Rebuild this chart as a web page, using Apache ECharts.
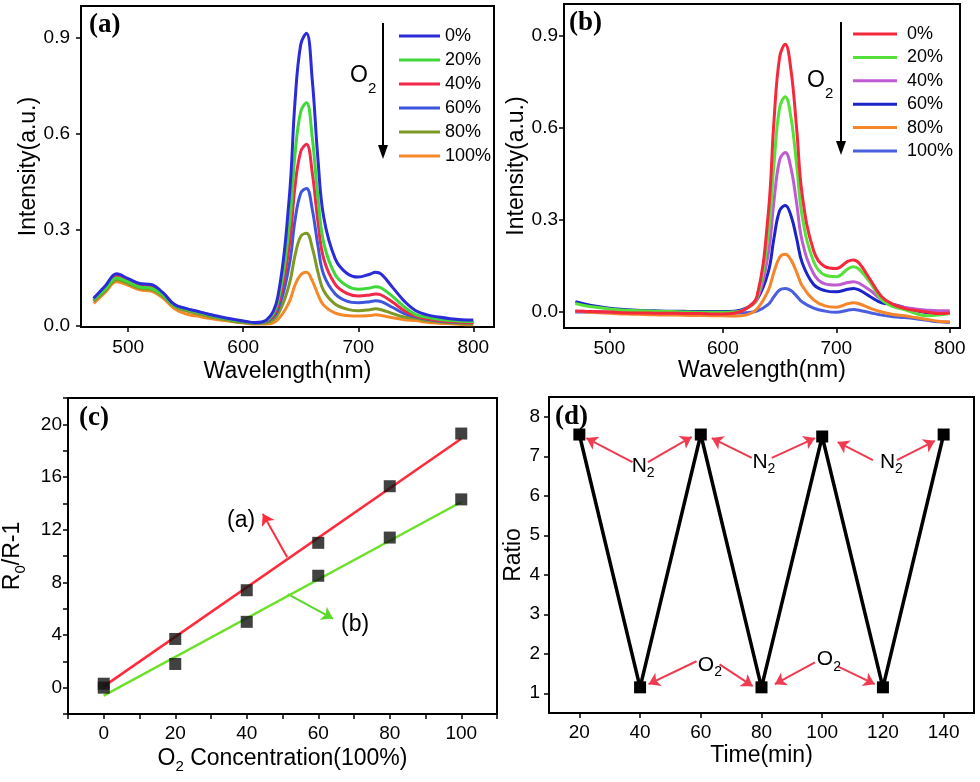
<!DOCTYPE html>
<html>
<head>
<meta charset="utf-8">
<script src="https://cdn.jsdelivr.net/npm/echarts@6/dist/echarts.min.js"></script>
<style>
  html, body { margin: 0; background: #fff; }
  #chart { width: 980px; height: 782px; }
</style>
</head>
<body>
<div id="chart"></div>
<script>
// ---- data ----
const wavelength = [470, 480, 490, 500, 510, 520, 530, 540, 550, 560, 570, 580, 590, 600, 610, 620, 630, 640, 645, 650,
  655, 660, 665, 670, 680, 690, 700, 710, 715, 720, 730, 740, 750, 760, 770, 780, 790, 800];
const levels = ['0%', '20%', '40%', '60%', '80%', '100%'];

// (a) spectra
const specA0 = [0.087, 0.125, 0.163, 0.148, 0.133, 0.130, 0.105, 0.068, 0.055, 0.046, 0.037, 0.029, 0.022, 0.016, 0.011, 0.018, 0.090, 0.400, 0.700, 0.880,
  0.915, 0.770, 0.520, 0.340, 0.210, 0.165, 0.153, 0.162, 0.168, 0.162, 0.120, 0.078, 0.048, 0.035, 0.028, 0.023, 0.020, 0.019];
const specA20 = [0.082, 0.115, 0.150, 0.138, 0.122, 0.118, 0.098, 0.064, 0.052, 0.043, 0.034, 0.026, 0.019, 0.014, 0.010, 0.016, 0.075, 0.310, 0.535, 0.670,
  0.698, 0.590, 0.400, 0.260, 0.160, 0.126, 0.115, 0.119, 0.123, 0.119, 0.092, 0.060, 0.036, 0.027, 0.021, 0.017, 0.015, 0.014];
const specA40 = [0.080, 0.118, 0.155, 0.141, 0.126, 0.122, 0.100, 0.065, 0.052, 0.043, 0.034, 0.026, 0.019, 0.014, 0.010, 0.015, 0.062, 0.250, 0.435, 0.545,
  0.568, 0.480, 0.325, 0.210, 0.130, 0.102, 0.094, 0.097, 0.100, 0.097, 0.074, 0.048, 0.031, 0.023, 0.018, 0.014, 0.012, 0.011];
const specA60 = [0.085, 0.122, 0.160, 0.145, 0.130, 0.127, 0.103, 0.067, 0.054, 0.045, 0.036, 0.027, 0.020, 0.014, 0.010, 0.014, 0.050, 0.190, 0.330, 0.415,
  0.430, 0.365, 0.250, 0.160, 0.100, 0.078, 0.073, 0.076, 0.079, 0.076, 0.058, 0.039, 0.029, 0.021, 0.016, 0.013, 0.011, 0.010];
const specA80 = [0.078, 0.110, 0.145, 0.133, 0.118, 0.114, 0.094, 0.062, 0.048, 0.039, 0.030, 0.023, 0.016, 0.011, 0.008, 0.010, 0.035, 0.130, 0.220, 0.280,
  0.290, 0.245, 0.168, 0.110, 0.068, 0.053, 0.048, 0.051, 0.054, 0.051, 0.039, 0.028, 0.024, 0.017, 0.013, 0.010, 0.008, 0.007];
const specA100 = [0.071, 0.105, 0.138, 0.127, 0.113, 0.109, 0.088, 0.055, 0.038, 0.031, 0.024, 0.019, 0.014, 0.010, 0.006, 0.006, 0.020, 0.075, 0.128, 0.160,
  0.168, 0.142, 0.098, 0.065, 0.040, 0.033, 0.031, 0.033, 0.035, 0.033, 0.026, 0.020, 0.017, 0.012, 0.009, 0.007, 0.005, 0.004];

// (b) spectra
const specB0 = [0.003, 0.002, 0.001, 0.000, -0.002, -0.003, -0.003, -0.004, -0.004, -0.004, -0.005, -0.005, -0.006, -0.006, -0.004, 0.010, 0.050, 0.320, 0.620, 0.830,
  0.873, 0.790, 0.600, 0.380, 0.200, 0.148, 0.142, 0.165, 0.170, 0.160, 0.105, 0.050, 0.025, 0.012, 0.005, 0.000, -0.005, -0.003];
const specB20 = [0.028, 0.020, 0.015, 0.010, 0.007, 0.005, 0.004, 0.003, 0.002, 0.001, 0.000, -0.001, -0.001, -0.001, 0.000, 0.010, 0.045, 0.255, 0.480, 0.665,
  0.702, 0.635, 0.480, 0.310, 0.165, 0.120, 0.115, 0.140, 0.148, 0.140, 0.095, 0.040, 0.018, 0.008, -0.005, -0.012, -0.010, -0.005];
const specB40 = [0.003, 0.002, 0.001, 0.000, 0.000, -0.001, -0.001, -0.002, -0.002, -0.002, -0.002, -0.002, -0.002, -0.002, -0.001, 0.010, 0.040, 0.190, 0.360, 0.495,
  0.520, 0.470, 0.355, 0.230, 0.125, 0.092, 0.088, 0.096, 0.099, 0.094, 0.070, 0.040, 0.025, 0.015, 0.010, 0.006, 0.004, 0.004];
const specB60 = [0.034, 0.025, 0.018, 0.012, 0.009, 0.007, 0.005, 0.004, 0.003, 0.003, 0.002, 0.002, 0.002, 0.002, 0.003, 0.012, 0.040, 0.130, 0.240, 0.330,
  0.347, 0.315, 0.240, 0.160, 0.090, 0.070, 0.066, 0.074, 0.077, 0.072, 0.050, 0.030, 0.025, 0.015, 0.005, -0.002, -0.005, -0.004];
const specB80 = [0.003, 0.000, -0.002, -0.004, -0.006, -0.007, -0.008, -0.009, -0.010, -0.010, -0.011, -0.011, -0.012, -0.012, -0.013, -0.010, 0.010, 0.070, 0.130, 0.178,
  0.188, 0.170, 0.130, 0.085, 0.040, 0.020, 0.016, 0.027, 0.030, 0.027, 0.012, 0.000, -0.008, -0.012, -0.018, -0.024, -0.030, -0.032];
const specB100 = [0.000, 0.000, 0.000, -0.001, -0.001, -0.001, -0.002, -0.002, -0.002, -0.002, -0.002, -0.003, -0.003, -0.003, -0.003, -0.002, 0.003, 0.025, 0.050, 0.072,
  0.077, 0.070, 0.052, 0.033, 0.013, 0.003, -0.001, 0.006, 0.008, 0.006, -0.002, -0.010, -0.015, -0.018, -0.022, -0.027, -0.032, -0.034];

// (c) Stern-Volmer plot
const concentration = [0, 20, 40, 60, 80, 100];
const r0A = [0.3, 3.7, 7.4, 11.0, 15.3, 19.3];
const r0B = [0.0, 1.8, 5.0, 8.5, 11.4, 14.3];
const fitX = [0, 100];
const fitA = [0.1, 18.9];
const fitB = [-0.6, 14.1];

// (d) switching cycles
const time = [20, 40, 60, 80, 100, 120, 140];
const ratio = [7.55, 1.15, 7.55, 1.15, 7.5, 1.15, 7.55];

// tick labels
const ticksSpecX = [500, 600, 700, 800];
const ticksSpecY = [0, 0.3, 0.6, 0.9];
const ticksTime = [20, 40, 60, 80, 100, 120, 140];
const ticksRatio = [1, 2, 3, 4, 5, 6, 7, 8];

const colorsA = ['#2b2bd9', '#3fd83a', '#f0284a', '#3d55dc', '#7c9a25', '#f5892a'];
const colorsB = ['#f5283c', '#55e03a', '#c05ad0', '#1a24c8', '#f5852a', '#4a5ee0'];
const specsA = [specA0, specA20, specA40, specA60, specA80, specA100];
const specsB = [specB0, specB20, specB40, specB60, specB80, specB100];

const FONT = '"Liberation Sans", Arial, sans-serif';
const SERIF = '"Liberation Serif", "Times New Roman", serif';

function axis(extra) {
  const base = {
    axisLine: { onZero: false, lineStyle: { color: '#000', width: 2 } },
    axisTick: { length: 5, lineStyle: { color: '#000', width: 1.5 } },
    axisLabel: { color: '#000', fontSize: 19, fontFamily: FONT },
    splitLine: { show: false },
    nameLocation: 'middle',
    nameTextStyle: { color: '#000', fontSize: 23, fontFamily: FONT }
  };
  const out = Object.assign({}, base, extra);
  out.axisTick = Object.assign({}, base.axisTick, extra.axisTick || {});
  out.axisLabel = Object.assign({}, base.axisLabel, extra.axisLabel || {});
  out.nameTextStyle = Object.assign({}, base.nameTextStyle, extra.nameTextStyle || {});
  return out;
}

const subRich = {
  m: { fontSize: 23, fontFamily: FONT, color: '#000', lineHeight: 30 },
  s: { fontSize: 15, fontFamily: FONT, color: '#000', lineHeight: 30, verticalAlign: 'bottom' }
};

function spectrumSeries(prefix, idx, specs, colors) {
  return levels.map((lv, i) => ({
    name: prefix + '|' + lv,
    type: 'line',
    xAxisIndex: idx,
    yAxisIndex: idx,
    symbol: 'none',
    smooth: 0.4,
    color: colors[i],
    lineStyle: { width: 3, color: colors[i] },
    z: 10 - i,
    data: wavelength.map((w, k) => [w, specs[i][k]])
  }));
}

const arrowLine = (color) => ({
  silent: true,
  symbol: ['none', 'arrow'],
  symbolSize: 11,
  label: { show: false },
  lineStyle: { color: color, width: 2, type: 'solid' },
  emphasis: { disabled: true }
});

const chart = echarts.init(document.getElementById('chart'));

chart.setOption({
  backgroundColor: '#fff',
  animation: false,
  textStyle: { fontFamily: FONT },
  grid: [
    { left: 81, top: 6, width: 413, height: 321, show: true, borderColor: '#000', borderWidth: 2 },
    { left: 564, top: 4, width: 396, height: 324, show: true, borderColor: '#000', borderWidth: 2 },
    { left: 68, top: 398, width: 429, height: 316, show: true, borderColor: '#000', borderWidth: 2 },
    { left: 549, top: 397, width: 425, height: 316, show: true, borderColor: '#000', borderWidth: 2 }
  ],
  legend: [
    {
      orient: 'vertical', left: 394, top: 22, itemWidth: 41, itemHeight: 3, itemGap: 6, icon: 'rect',
      data: levels.map(l => 'a|' + l),
      formatter: n => n.split('|')[1],
      textStyle: { fontSize: 18, color: '#000', fontFamily: FONT, lineHeight: 18 },
      selectedMode: false
    },
    {
      orient: 'vertical', left: 848, top: 20, itemWidth: 44, itemHeight: 3, itemGap: 5.4, icon: 'rect',
      data: levels.map(l => 'b|' + l),
      formatter: n => n.split('|')[1],
      textStyle: { fontSize: 18, color: '#000', fontFamily: FONT, lineHeight: 18, padding: [0, 0, 0, 5] },
      selectedMode: false
    }
  ],
  xAxis: [
    axis({ gridIndex: 0, type: 'value', min: 459, max: 818, name: 'Wavelength(nm)', nameGap: 33,
      axisTick: { customValues: ticksSpecX }, axisLabel: { customValues: ticksSpecX, margin: 11 } }),
    axis({ gridIndex: 1, type: 'value', min: 460, max: 809, name: 'Wavelength(nm)', nameGap: 27,
      axisTick: { customValues: ticksSpecX }, axisLabel: { customValues: ticksSpecX, margin: 11 } }),
    axis({ gridIndex: 2, type: 'value', min: -10, max: 110, interval: 10,
      name: '{m|O}{s|2}{m| Concentration(100%)}', nameGap: 30,
      nameTextStyle: { rich: subRich },
      axisLabel: { margin: 10, formatter: v => (v >= 0 && v <= 100 && v % 20 === 0) ? String(v) : '' } }),
    axis({ gridIndex: 3, type: 'value', min: 10, max: 150, name: 'Time(min)', nameGap: 31,
      axisTick: { customValues: ticksTime }, axisLabel: { customValues: ticksTime, margin: 10 } })
  ],
  yAxis: [
    axis({ gridIndex: 0, type: 'value', min: -0.003, max: 1.0, name: 'Intensity(a.u.)', nameGap: 35,
      axisTick: { customValues: ticksSpecY },
      axisLabel: { customValues: ticksSpecY, margin: 11, formatter: v => v.toFixed(1) } }),
    axis({ gridIndex: 1, type: 'value', min: -0.052, max: 1.004, name: 'Intensity(a.u.)', nameGap: 34,
      axisTick: { customValues: ticksSpecY },
      axisLabel: { customValues: ticksSpecY, margin: 6, formatter: v => v.toFixed(1) } }),
    axis({ gridIndex: 2, type: 'value', min: -2, max: 22, interval: 2,
      name: '{m|R}{s|0}{m|/R-1}', nameGap: 40,
      nameTextStyle: { rich: subRich },
      axisLabel: { margin: 6, formatter: v => (v >= 0 && v <= 20 && v % 4 === 0) ? String(v) : '' } }),
    axis({ gridIndex: 3, type: 'value', min: 0.5, max: 8.5, name: 'Ratio', nameGap: 22,
      axisTick: { customValues: ticksRatio }, axisLabel: { customValues: ticksRatio, margin: 9 } })
  ],
  series: [
    ...spectrumSeries('a', 0, specsA, colorsA),
    ...spectrumSeries('b', 1, specsB, colorsB),
    {
      name: 'fitA', type: 'line', xAxisIndex: 2, yAxisIndex: 2, symbol: 'none',
      lineStyle: { color: '#ff2a3a', width: 2.5 }, z: 5,
      data: fitX.map((x, i) => [x, fitA[i]]),
      markLine: Object.assign(arrowLine('#ff2a3a'), {
        data: [[{ coord: [51.3, 9.9] }, { coord: [44.5, 13.2] }]]
      }),
      markPoint: {
        symbolSize: 0, silent: true,
        label: { show: true, formatter: '(a)', color: '#000', fontSize: 23, fontFamily: FONT },
        data: [{ coord: [38.4, 12.7] }]
      }
    },
    {
      name: 'fitB', type: 'line', xAxisIndex: 2, yAxisIndex: 2, symbol: 'none',
      lineStyle: { color: '#6ee02a', width: 2.5 }, z: 5,
      data: fitX.map((x, i) => [x, fitB[i]]),
      markLine: Object.assign(arrowLine('#5ad82a'), {
        data: [[{ coord: [51.5, 7.1] }, { coord: [64.1, 5.25] }]]
      }),
      markPoint: {
        symbolSize: 0, silent: true,
        label: { show: true, formatter: '(b)', color: '#000', fontSize: 23, fontFamily: FONT },
        data: [{ coord: [70.3, 4.8] }]
      }
    },
    {
      name: 'ptsA', type: 'scatter', xAxisIndex: 2, yAxisIndex: 2, symbol: 'rect', symbolSize: 12,
      itemStyle: { color: '#111' }, z: 6,
      data: concentration.map((x, i) => [x, r0A[i]])
    },
    {
      name: 'ptsB', type: 'scatter', xAxisIndex: 2, yAxisIndex: 2, symbol: 'rect', symbolSize: 12,
      itemStyle: { color: '#111' }, z: 6,
      data: concentration.map((x, i) => [x, r0B[i]])
    },
    {
      name: 'ratio', type: 'line', xAxisIndex: 3, yAxisIndex: 3, symbol: 'rect', symbolSize: 12,
      lineStyle: { color: '#000', width: 3.5 }, itemStyle: { color: '#000' },
      data: time.map((t, i) => [t, ratio[i]]),
      markLine: Object.assign(arrowLine('#f03a50'), {
        data: [
          [{ coord: [37.5, 6.85] }, { coord: [22.3, 7.46] }],
          [{ coord: [42.6, 6.85] }, { coord: [57.0, 7.49] }],
          [{ coord: [76.8, 6.96] }, { coord: [63.6, 7.46] }],
          [{ coord: [83.4, 6.96] }, { coord: [97.6, 7.46] }],
          [{ coord: [116.7, 6.9] }, { coord: [105.1, 7.36] }],
          [{ coord: [124.6, 6.9] }, { coord: [137.1, 7.39] }],
          [{ coord: [58.6, 1.81] }, { coord: [42.8, 1.23] }],
          [{ coord: [66.2, 1.73] }, { coord: [77.1, 1.18] }],
          [{ coord: [97.6, 1.78] }, { coord: [84.4, 1.23] }],
          [{ coord: [105.1, 1.68] }, { coord: [117.3, 1.23] }]
        ]
      }),
      markPoint: {
        symbolSize: 0, silent: true,
        label: {
          show: true, color: '#000',
          rich: {
            m: { fontSize: 21, fontFamily: FONT, color: '#000', lineHeight: 28 },
            s: { fontSize: 14, fontFamily: FONT, color: '#000', lineHeight: 28, verticalAlign: 'bottom' }
          }
        },
        data: [
          { coord: [41, 6.75], label: { formatter: '{m|N}{s|2}' } },
          { coord: [80.8, 6.85], label: { formatter: '{m|N}{s|2}' } },
          { coord: [122.8, 6.85], label: { formatter: '{m|N}{s|2}' } },
          { coord: [63, 1.72], label: { formatter: '{m|O}{s|2}' } },
          { coord: [102.2, 1.85], label: { formatter: '{m|O}{s|2}' } }
        ]
      }
    }
  ],
  graphic: [
    // panel letters
    { type: 'text', left: 89, top: 12, style: { text: '(a)', font: 'bold 27px ' + SERIF, fill: '#000' } },
    { type: 'text', left: 569, top: 10, style: { text: '(b)', font: 'bold 27px ' + SERIF, fill: '#000' } },
    { type: 'text', left: 79, top: 405, style: { text: '(c)', font: 'bold 27px ' + SERIF, fill: '#000' } },
    { type: 'text', left: 555, top: 404, style: { text: '(d)', font: 'bold 27px ' + SERIF, fill: '#000' } },
    // O2 arrow in legend (a)
    { type: 'line', shape: { x1: 383, y1: 23, x2: 383, y2: 148 }, style: { stroke: '#000', lineWidth: 2 } },
    { type: 'polygon', shape: { points: [[378, 145], [388, 145], [383, 159]] }, style: { fill: '#000' } },
    { type: 'text', x: 350, y: 64, style: { text: 'O', font: '23px ' + FONT, fill: '#000' } },
    { type: 'text', x: 368, y: 81, style: { text: '2', font: '15px ' + FONT, fill: '#000' } },
    // O2 arrow in legend (b)
    { type: 'line', shape: { x1: 841, y1: 22, x2: 841, y2: 144 }, style: { stroke: '#000', lineWidth: 2 } },
    { type: 'polygon', shape: { points: [[836, 141], [846, 141], [841, 155]] }, style: { fill: '#000' } },
    { type: 'text', x: 807, y: 69, style: { text: 'O', font: '23px ' + FONT, fill: '#000' } },
    { type: 'text', x: 825, y: 86, style: { text: '2', font: '15px ' + FONT, fill: '#000' } }
  ]
});
</script>
</body>
</html>
